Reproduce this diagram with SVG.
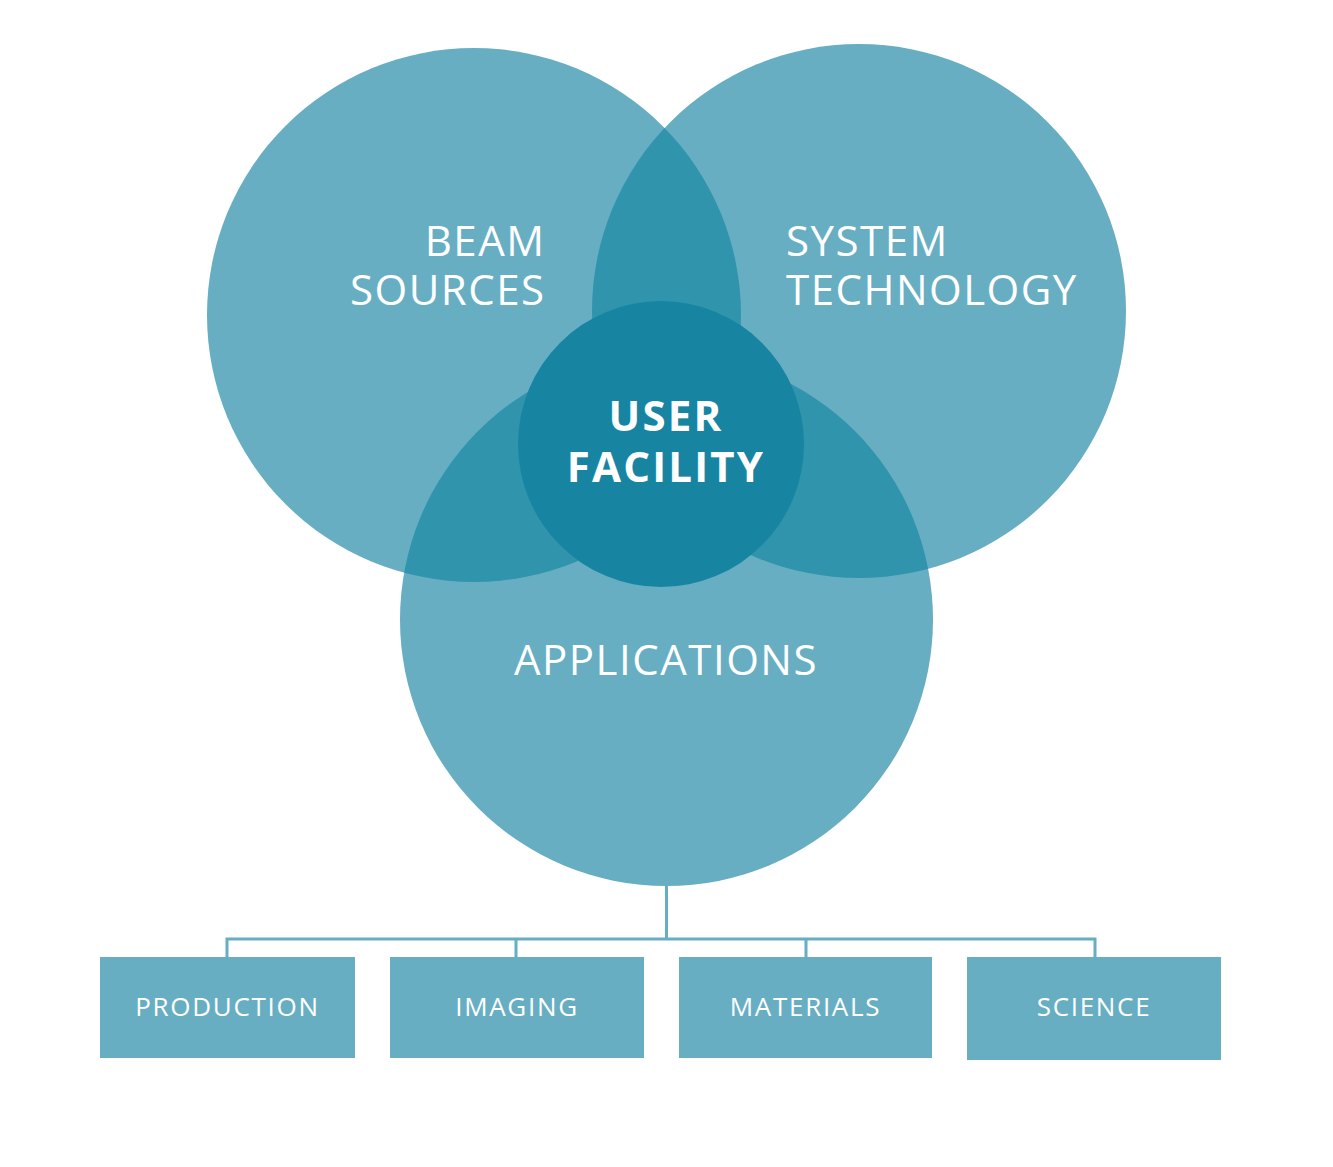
<svg xmlns="http://www.w3.org/2000/svg" width="1333" height="1167" viewBox="0 0 1333 1167">
<style>
.big{fill:#67aec3}
.lens{fill:#3194ad}
.core{fill:#1785a2}
.t{font-family:"Open Sans","Noto Sans",sans-serif;fill:#ffffff}
.title{font-size:42px;letter-spacing:1.5px}
.bold{font-size:42px;font-weight:bold;letter-spacing:2.2px}
.lab{font-size:26px;letter-spacing:1.7px}
.box{fill:#67aec3}
.conn{stroke:#67aec3;stroke-width:3;fill:none}
</style>
<defs>
<clipPath id="cB"><circle cx="474" cy="315" r="267"/></clipPath>
<clipPath id="cS"><circle cx="859" cy="311" r="267"/></clipPath>
<clipPath id="cA"><circle cx="666.5" cy="619.5" r="266.5"/></clipPath>
</defs>
<rect width="1333" height="1167" fill="#ffffff"/>
<g id="connectors">
<path class="conn" d="M666.5 880 V939 M227 957 V939 H1095 V957 M516 939 V957 M806 939 V957"/>
</g>
<g id="beam-sources">
<circle class="big" cx="474" cy="315" r="267"/>
</g>
<g id="system-technology">
<circle class="big" cx="859" cy="311" r="267"/>
</g>
<g id="applications">
<circle class="big" cx="666.5" cy="619.5" r="266.5"/>
</g>
<g id="overlaps">
<circle class="lens" cx="859" cy="311" r="267" clip-path="url(#cB)"/>
<circle class="lens" cx="666.5" cy="619.5" r="266.5" clip-path="url(#cB)"/>
<circle class="lens" cx="666.5" cy="619.5" r="266.5" clip-path="url(#cS)"/>
</g>
<g id="user-facility">
<circle class="core" cx="661" cy="444" r="143"/>
<text class="t bold" x="666" y="431" text-anchor="middle">USER</text>
<text class="t bold" x="666" y="482" text-anchor="middle">FACILITY</text>
</g>
<g id="beam-label">
<text class="t title" x="545.5" y="256" text-anchor="end">BEAM</text>
<text class="t title" x="545.5" y="305" text-anchor="end">SOURCES</text>
</g>
<g id="system-label">
<text class="t title" x="786" y="256">SYSTEM</text>
<text class="t title" x="786" y="305">TECHNOLOGY</text>
</g>
<g id="applications-label">
<text class="t title" x="666" y="675" text-anchor="middle">APPLICATIONS</text>
</g>
<g id="production">
<rect class="box" x="100" y="957" width="255" height="101"/>
<text class="t lab" x="227.5" y="1016" text-anchor="middle">PRODUCTION</text>
</g>
<g id="imaging">
<rect class="box" x="390" y="957" width="254" height="101"/>
<text class="t lab" x="517" y="1016" text-anchor="middle">IMAGING</text>
</g>
<g id="materials">
<rect class="box" x="679" y="957" width="253" height="101"/>
<text class="t lab" x="805.5" y="1016" text-anchor="middle">MATERIALS</text>
</g>
<g id="science">
<rect class="box" x="967" y="957" width="254" height="103"/>
<text class="t lab" x="1094" y="1016" text-anchor="middle">SCIENCE</text>
</g>
</svg>
